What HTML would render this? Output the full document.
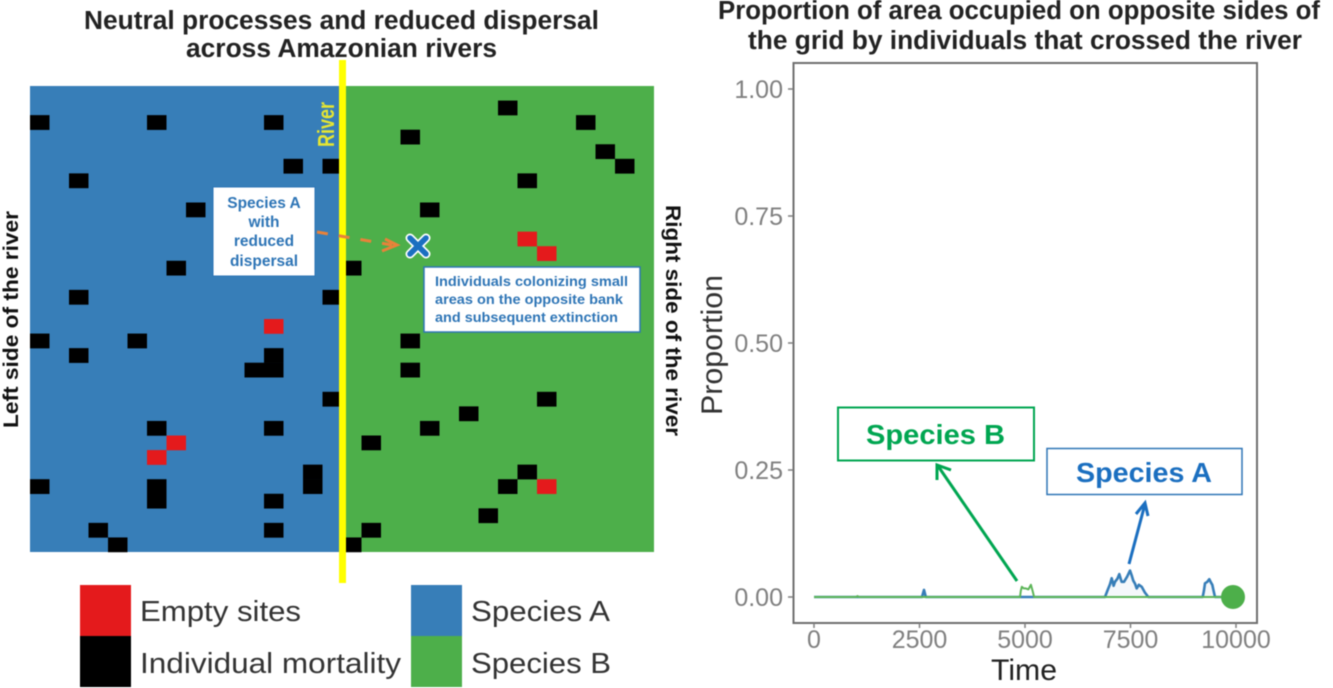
<!DOCTYPE html>
<html lang="en">
<head>
<meta charset="utf-8">
<title>Neutral processes and reduced dispersal across Amazonian rivers</title>
<style>
html,body{margin:0;padding:0;background:#fff;width:1333px;height:688px;overflow:hidden}
svg{display:block;font-family:"Liberation Sans",sans-serif}
.soft{filter:blur(0.5px)}
</style>
</head>
<body>
<svg id="figure" xmlns="http://www.w3.org/2000/svg" width="1333" height="688" viewBox="0 0 1333 688">
  <g class="soft">
    <text x="84" y="29" font-size="25.5" font-weight="700" fill="#222" textLength="515" lengthAdjust="spacingAndGlyphs">Neutral processes and reduced dispersal</text>
    <text x="186" y="57" font-size="25.5" font-weight="700" fill="#222" textLength="311" lengthAdjust="spacingAndGlyphs">across Amazonian rivers</text>
    <text x="718" y="19" font-size="25.5" font-weight="700" fill="#222" textLength="602" lengthAdjust="spacingAndGlyphs">Proportion of area occupied on opposite sides of</text>
    <text x="748" y="49" font-size="25.5" font-weight="700" fill="#222" textLength="554" lengthAdjust="spacingAndGlyphs">the grid by individuals that crossed the river</text>
  </g>

  <g id="grid" class="soft">
    <rect x="30" y="86" width="312" height="466" fill="#377eb8"/>
    <rect x="342" y="86" width="312" height="466" fill="#4daf4a"/>
  </g>

  <g class="soft">
    <rect x="339" y="60" width="7" height="523" fill="#ffff00"/>
    <text transform="translate(334,147) rotate(-90)" font-size="23" font-weight="700" fill="#e6e632" textLength="45" lengthAdjust="spacingAndGlyphs">River</text>
    <text transform="translate(18,428) rotate(-90)" font-size="21" font-weight="700" fill="#111" textLength="217" lengthAdjust="spacingAndGlyphs">Left side of the river</text>
    <text transform="translate(666,205) rotate(90)" font-size="21" font-weight="700" fill="#111" textLength="231" lengthAdjust="spacingAndGlyphs">Right side of the river</text>

    <rect x="213" y="187" width="102" height="89" fill="#fff" stroke="#2e75b6" stroke-width="1"/>
    <g font-size="15.5" font-weight="700" fill="#2e75b6" text-anchor="middle">
      <text x="264" y="208">Species A</text>
      <text x="264" y="227">with</text>
      <text x="264" y="246">reduced</text>
      <text x="264" y="266">dispersal</text>
    </g>

    <path d="M317 232 L392 245" fill="none" stroke="#e8823a" stroke-width="3" stroke-dasharray="11 11"/>
    <path d="M385 239 L397 245 L382 251" fill="none" stroke="#e8823a" stroke-width="3"/>
    <g>
      <path d="M410 238 L426 254 M426 238 L410 254" stroke="#fff" stroke-width="9" stroke-linecap="round"/>
      <path d="M410 238 L426 254 M426 238 L410 254" stroke="#1b6fc0" stroke-width="5.5" stroke-linecap="round"/>
    </g>

    <rect x="424" y="267" width="216" height="65" fill="#fff" stroke="#2e75b6" stroke-width="1.5"/>
    <g font-size="13.5" font-weight="700" fill="#2e75b6">
      <text x="435" y="286" textLength="193" lengthAdjust="spacingAndGlyphs">Individuals colonizing small</text>
      <text x="435" y="304" textLength="188" lengthAdjust="spacingAndGlyphs">areas on the opposite bank</text>
      <text x="435" y="322" textLength="183" lengthAdjust="spacingAndGlyphs">and subsequent extinction</text>
    </g>
  </g>

  <g class="soft" font-size="29" fill="#333">
    <rect x="80" y="585" width="51" height="51" fill="#e41a1c"/>
    <rect x="80" y="636" width="51" height="51" fill="#000"/>
    <rect x="411" y="585" width="51" height="51" fill="#377eb8"/>
    <rect x="411" y="636" width="51" height="51" fill="#4daf4a"/>
    <text x="140" y="621" textLength="161" lengthAdjust="spacingAndGlyphs">Empty sites</text>
    <text x="140" y="673" textLength="261" lengthAdjust="spacingAndGlyphs">Individual mortality</text>
    <text x="471" y="621" textLength="139" lengthAdjust="spacingAndGlyphs">Species A</text>
    <text x="471" y="673" textLength="140" lengthAdjust="spacingAndGlyphs">Species B</text>
  </g>

  <g id="chart" class="soft">
    <rect x="793.5" y="63" width="463.5" height="560" fill="#fff" stroke="#6f6f6f" stroke-width="2"/>
    <text x="991" y="680" font-size="30" fill="#222" textLength="66" lengthAdjust="spacingAndGlyphs">Time</text>
    <text transform="translate(722,415) rotate(-90)" font-size="30" fill="#333" textLength="140" lengthAdjust="spacingAndGlyphs">Proportion</text>
  </g>

  <g class="soft">
    <rect x="838" y="407.5" width="196" height="53" fill="#fff" stroke="#00a651" stroke-width="2"/>
    <text x="866" y="444" font-size="28" font-weight="700" fill="#00a651" textLength="139" lengthAdjust="spacingAndGlyphs">Species B</text>
    <rect x="1047" y="448.5" width="195" height="46" fill="#fff" stroke="#2e75b6" stroke-width="1.5"/>
    <text x="1076" y="482" font-size="28" font-weight="700" fill="#1b6fc0" textLength="136" lengthAdjust="spacingAndGlyphs">Species A</text>
    <path d="M1017 581 L938 466 M937 480 L937 465 L951 470" fill="none" stroke="#00a651" stroke-width="3"/>
    <path d="M1129 564 L1145 504 M1136 514 L1145 503 L1148 516" fill="none" stroke="#1b6fc0" stroke-width="3"/>
  </g>
</svg>
<script>
/* Grid cells are [column, row] on a 32 x 32 lattice */
var mortalityCells = [[0,2],[6,2],[12,2],[13,5],[15,5],[2,6],[8,8],[7,12],[2,14],[15,14],[0,17],[5,17],[2,18],[12,18],[11,19],[12,19],[15,21],[6,23],[12,23],[14,26],[14,27],[0,27],[6,27],[6,28],[12,28],[3,30],[12,30],[4,31],[24,1],[28,2],[19,3],[29,4],[30,5],[25,6],[20,8],[16,12],[19,17],[19,19],[26,21],[22,22],[20,23],[17,24],[25,26],[24,27],[23,29],[17,30],[16,31]];
var emptyCells = [[12,16],[7,24],[6,25],[25,10],[26,11],[26,27]];

/* Chart data */
var xTickValues = [0, 2500, 5000, 7500, 10000];
var xTickLabels = ["0", "2500", "5000", "7500", "10000"];
var yTickValues = [0, 0.25, 0.5, 0.75, 1];
var yTickLabels = ["0.00", "0.25", "0.50", "0.75", "1.00"];

var speciesATime = [0, 2560, 2607, 2650, 6896, 6950, 7010, 7054, 7100, 7133, 7190, 7235, 7290, 7346, 7420, 7488, 7530, 7567, 7610, 7646, 7700, 7765, 7840, 7922, 9210, 9240, 9265, 9320, 9368, 9410, 9439, 9470, 9502, 10000];
var speciesAValues = [0, 0, 0.014, 0, 0, 0.012, 0.024, 0.037, 0.022, 0.030, 0.036, 0.045, 0.030, 0.030, 0.040, 0.052, 0.042, 0.032, 0.026, 0.017, 0.024, 0.020, 0.009, 0, 0, 0.012, 0.027, 0.030, 0.035, 0.028, 0.024, 0.012, 0, 0];

var speciesBTime = [0, 1000, 1030, 1060, 4882, 4900, 4925, 4970, 5020, 5080, 5140, 5180, 5215, 10000];
var speciesBValues = [0, 0, 0.002, 0, 0, 0.012, 0.020, 0.017, 0.017, 0.015, 0.024, 0.012, 0, 0];

var finalTime = [10000];
var finalValue = [0];

var NS = 'http://www.w3.org/2000/svg';
var gridLayer = document.getElementById('grid');
var chartLayer = document.getElementById('chart');

function xScale(t){ return 814 + t / 10000 * 422; }
function yScale(v){ return 597 - v * 508; }
function colX(c){ return 30 + c * 19.5; }
function rowY(r){ return 86 + r * 14.5625; }

function make(tag, parent, attrs){
  var el = document.createElementNS(NS, tag);
  for (var k in attrs) { el.setAttribute(k, attrs[k]); }
  parent.appendChild(el);
  return el;
}

mortalityCells.forEach(function(cell){
  var r = make('rect', gridLayer, {x: colX(cell[0]), y: rowY(cell[1]), width: 19.5, height: 14.8, fill: '#000'});
  
  
});
emptyCells.forEach(function(cell){
  var r = make('rect', gridLayer, {x: colX(cell[0]), y: rowY(cell[1]), width: 19.5, height: 14.8, fill: '#e41a1c'});
  
  
});

xTickValues.forEach(function(v, i){
  var t = make('line', chartLayer, {x1: xScale(v), x2: xScale(v), y1: 623, y2: 628, stroke: '#7f7f7f', 'stroke-width': 1.5});
  
  
  var l = make('text', chartLayer, {x: xScale(v), y: 648, 'text-anchor': 'middle', 'font-size': 25, fill: '#808080'});
  
  
  l.textContent = xTickLabels[i];
});
yTickValues.forEach(function(v, i){
  var t = make('line', chartLayer, {x1: 788, x2: 793, y1: yScale(v), y2: yScale(v), stroke: '#7f7f7f', 'stroke-width': 1.5});
  
  
  var l = make('text', chartLayer, {x: 783, y: yScale(v) + 9, 'text-anchor': 'end', 'font-size': 25, fill: '#808080'});
  
  
  l.textContent = yTickLabels[i];
});

function pathFrom(times, values){
  return times.map(function(t, i){
    return (i ? 'L' : 'M') + xScale(t).toFixed(1) + ' ' + yScale(values[i]).toFixed(1);
  }).join(' ');
}

var areaA = make('path', chartLayer, {d: pathFrom(speciesATime, speciesAValues) + ' Z', fill: '#377eb8', 'fill-opacity': 0.05, stroke: 'none'});



var lineA = make('path', chartLayer, {d: pathFrom(speciesATime, speciesAValues), fill: 'none', stroke: '#377eb8', 'stroke-width': 2.6, 'stroke-linejoin': 'round'});



var lineB = make('path', chartLayer, {d: pathFrom(speciesBTime, speciesBValues), fill: 'none', stroke: '#5cb558', 'stroke-width': 2, 'stroke-linejoin': 'round'});



finalTime.forEach(function(t, i){
  var c = make('circle', chartLayer, {cx: xScale(t) - 3, cy: yScale(finalValue[i]), r: 12, fill: '#4daf4a'});
  
  
});
</script>
</body>
</html>
